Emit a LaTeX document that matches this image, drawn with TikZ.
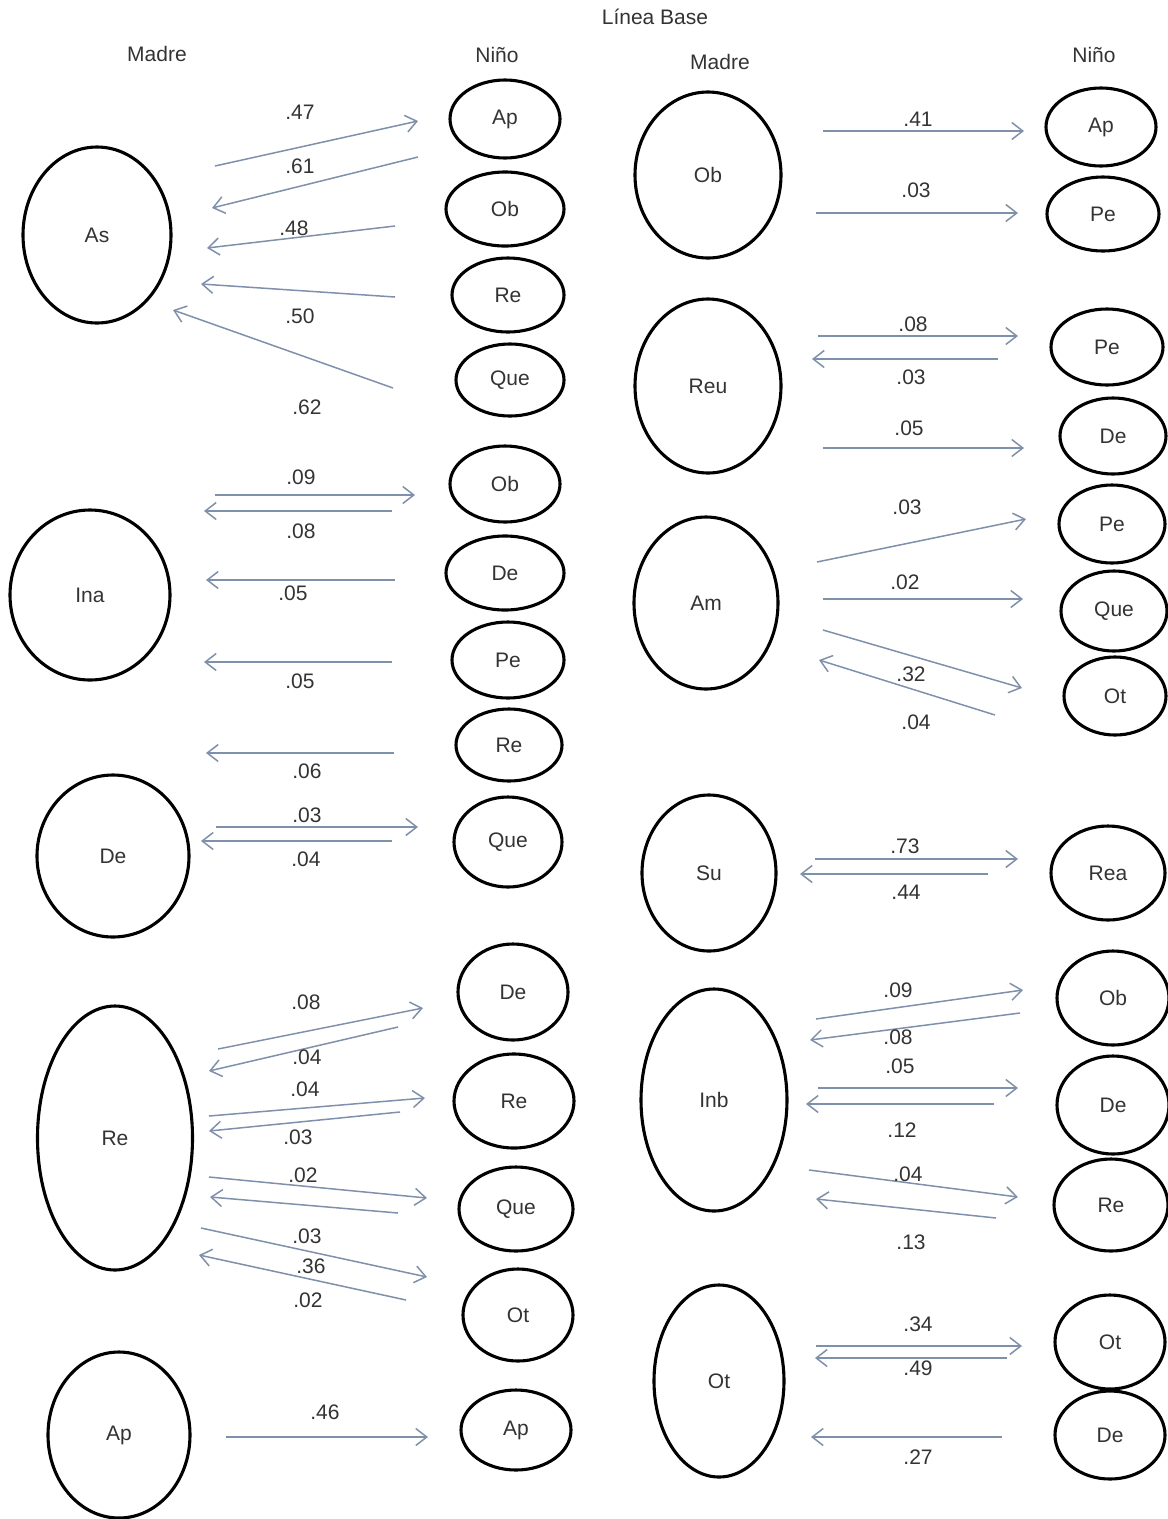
\documentclass[tikz,border=0pt]{standalone}
\usepackage{fontspec}
\setmainfont{Liberation Sans}
\usetikzlibrary{arrows.meta,calc,shapes.geometric}
\definecolor{Flecha}{HTML}{7F90AC}
\definecolor{Texto}{HTML}{333333}

\tikzset{
  ov/.style 2 args={ellipse, draw=black, line width=3.1pt, inner sep=0pt,
    minimum width=#1pt, minimum height=#2pt, text=Texto},
  fw/.style={draw=Flecha, line width=1.5pt, -{Straight Barb[length=11pt,width=17pt,line width=1.5pt]}},
  wt/.style={text=Texto, inner sep=1pt},
}

\begin{document}
\begin{tikzpicture}[x=1pt, y=-1pt, font=\fontsize{21}{25}\selectfont]
  \useasboundingbox (0,0) rectangle (1168,1519);

  % titulos
  \node[wt] (titulo) at (655,17) {Línea Base};
  \node[wt] (madreI) at (157,54) {Madre};
  \node[wt] (ninoI) at (497,55) {Niño};
  \node[wt] (madreD) at (720,62) {Madre};
  \node[wt] (ninoD) at (1094,55) {Niño};

  % madre, izquierda
  \node[ov={148}{176}] (mAs)  at (97,235)   {As};
  \node[ov={160}{170}] (mIna) at (90,595)   {Ina};
  \node[ov={152}{162}] (mDe)  at (113,856)  {De};
  \node[ov={155}{264}] (mRe)  at (115,1138) {Re};
  \node[ov={142}{166}] (mAp)  at (119,1435) {Ap};

  % nino, izquierda
  \node[ov={110}{78}] (nAsAp)   at (505,119)  {Ap};
  \node[ov={118}{74}] (nAsOb)   at (505,209)  {Ob};
  \node[ov={112}{74}] (nAsRe)   at (508,295)  {Re};
  \node[ov={108}{72}] (nAsQue)  at (510,380)  {Que};
  \node[ov={110}{76}] (nInaOb)  at (505,484)  {Ob};
  \node[ov={118}{74}] (nInaDe)  at (505,573)  {De};
  \node[ov={112}{76}] (nInaPe)  at (508,660)  {Pe};
  \node[ov={106}{72}] (nInaRe)  at (509,745)  {Re};
  \node[ov={108}{90}] (nDeQue)  at (508,842)  {Que};
  \node[ov={110}{96}] (nReDe)   at (513,992)  {De};
  \node[ov={120}{94}] (nReRe)   at (514,1101) {Re};
  \node[ov={114}{84}] (nReQue)  at (516,1209) {Que};
  \node[ov={110}{92}] (nReOt)   at (518,1315) {Ot};
  \node[ov={110}{80}] (nApAp)   at (516,1430) {Ap};

  % madre, derecha
  \node[ov={146}{166}] (mOb)  at (708,175)  {Ob};
  \node[ov={146}{174}] (mReu) at (708,386)  {Reu};
  \node[ov={144}{172}] (mAm)  at (706,603)  {Am};
  \node[ov={134}{156}] (mSu)  at (709,873)  {Su};
  \node[ov={146}{222}] (mInb) at (714,1100) {Inb};
  \node[ov={130}{192}] (mOt)  at (719,1381) {Ot};

  % nino, derecha
  \node[ov={110}{78}] (nObAp)   at (1101,127)  {Ap};
  \node[ov={112}{74}] (nObPe)   at (1103,214)  {Pe};
  \node[ov={112}{76}] (nReuPe)  at (1107,347)  {Pe};
  \node[ov={106}{76}] (nReuDe)  at (1113,436)  {De};
  \node[ov={106}{78}] (nAmPe)   at (1112,524)  {Pe};
  \node[ov={106}{80}] (nAmQue)  at (1114,611)  {Que};
  \node[ov={102}{78}] (nAmOt)   at (1115,696)  {Ot};
  \node[ov={114}{94}] (nSuRea)  at (1108,873)  {Rea};
  \node[ov={112}{94}] (nInbOb)  at (1113,998)  {Ob};
  \node[ov={112}{98}] (nInbDe)  at (1113,1105) {De};
  \node[ov={114}{92}] (nInbRe)  at (1111,1205) {Re};
  \node[ov={110}{94}] (nOtOt)   at (1110,1342) {Ot};
  \node[ov={110}{88}] (nOtDe)   at (1110,1435) {De};

  % flechas: origen/desplazamiento/destino/desplazamiento
  \foreach \a/\oa/\b/\ob in {
      mAs/{118,-69}/nAsAp/{-87,2},     nAsAp/{-87,38}/mAs/{115,-27},
      nAsOb/{-110,17}/mAs/{110,13},    nAsRe/{-113,2}/mAs/{104,49},
      nAsQue/{-117,8}/mAs/{76,75},
      mIna/{125,-100}/nInaOb/{-90,11}, nInaOb/{-113,27}/mIna/{114,-84},
      nInaDe/{-110,7}/mIna/{116,-15},  nInaPe/{-116,2}/mIna/{114,67},
      nInaRe/{-115,8}/mIna/{116,158},
      mDe/{103,-29}/nDeQue/{-90,-15},  nDeQue/{-116,-1}/mDe/{88,-15},
      mRe/{103,-89}/nReDe/{-90,16},    nReDe/{-115,35}/mRe/{94,-67},
      mRe/{94,-22}/nReRe/{-89,-3},     nReRe/{-114,11}/mRe/{94,-7},
      mRe/{94,39}/nReQue/{-89,-11},    nReQue/{-118,4}/mRe/{95,59},
      mRe/{86,90}/nReOt/{-91,-38},     nReOt/{-112,-15}/mRe/{84,117},
      mAp/{107,2}/nApAp/{-88,7},
      mOb/{115,-44}/nObAp/{-77,4},     mOb/{108,38}/nObPe/{-85,-1},
      mReu/{110,-50}/nReuPe/{-89,-11}, nReuPe/{-109,12}/mReu/{104,-27},
      mReu/{115,62}/nReuDe/{-89,12},
      mAm/{111,-41}/nAmPe/{-86,-5},    mAm/{117,-4}/nAmQue/{-91,-12},
      mAm/{117,27}/nAmOt/{-93,-8},     nAmOt/{-120,19}/mAm/{113,57},
      mSu/{106,-14}/nSuRea/{-90,-14},  nSuRea/{-120,1}/mSu/{91,1},
      mInb/{102,-81}/nInbOb/{-90,-8},  nInbOb/{-93,15}/mInb/{96,-60},
      mInb/{104,-12}/nInbDe/{-95,-17}, nInbDe/{-119,-1}/mInb/{92,4},
      mInb/{95,70}/nInbRe/{-93,-8},    nInbRe/{-115,13}/mInb/{102,99},
      mOt/{97,-35}/nOtOt/{-88,4},      nOtOt/{-103,16}/mOt/{96,-23},
      nOtDe/{-108,2}/mOt/{92,56}}
    \draw[fw] ($(\a)+(\oa)$) -- ($(\b)+(\ob)$);

  % pesos
  \foreach \n/\x/\y/\t in {
      1/300/112/.47, 2/300/166/.61, 3/294/228/.48, 4/300/316/.50, 5/307/407/.62,
      6/301/477/.09, 7/301/531/.08, 8/293/593/.05, 9/300/681/.05, 10/307/771/.06,
      11/307/815/.03, 12/306/859/.04,
      13/306/1002/.08, 14/307/1057/.04, 15/305/1089/.04, 16/298/1137/.03,
      17/303/1175/.02, 18/307/1236/.03, 19/311/1266/.36, 20/308/1300/.02,
      21/325/1412/.46,
      22/918/119/.41, 23/916/190/.03, 24/913/324/.08, 25/911/377/.03, 26/909/428/.05,
      27/907/507/.03, 28/905/582/.02, 29/911/674/.32, 30/916/722/.04,
      31/905/846/.73, 32/906/892/.44,
      33/898/990/.09, 34/898/1037/.08, 35/900/1066/.05, 36/902/1130/.12,
      37/908/1174/.04, 38/911/1242/.13,
      39/918/1324/.34, 40/918/1368/.49, 41/918/1457/.27}
    \node[wt] (w\n) at (\x,\y) {\t};
\end{tikzpicture}
\end{document}
